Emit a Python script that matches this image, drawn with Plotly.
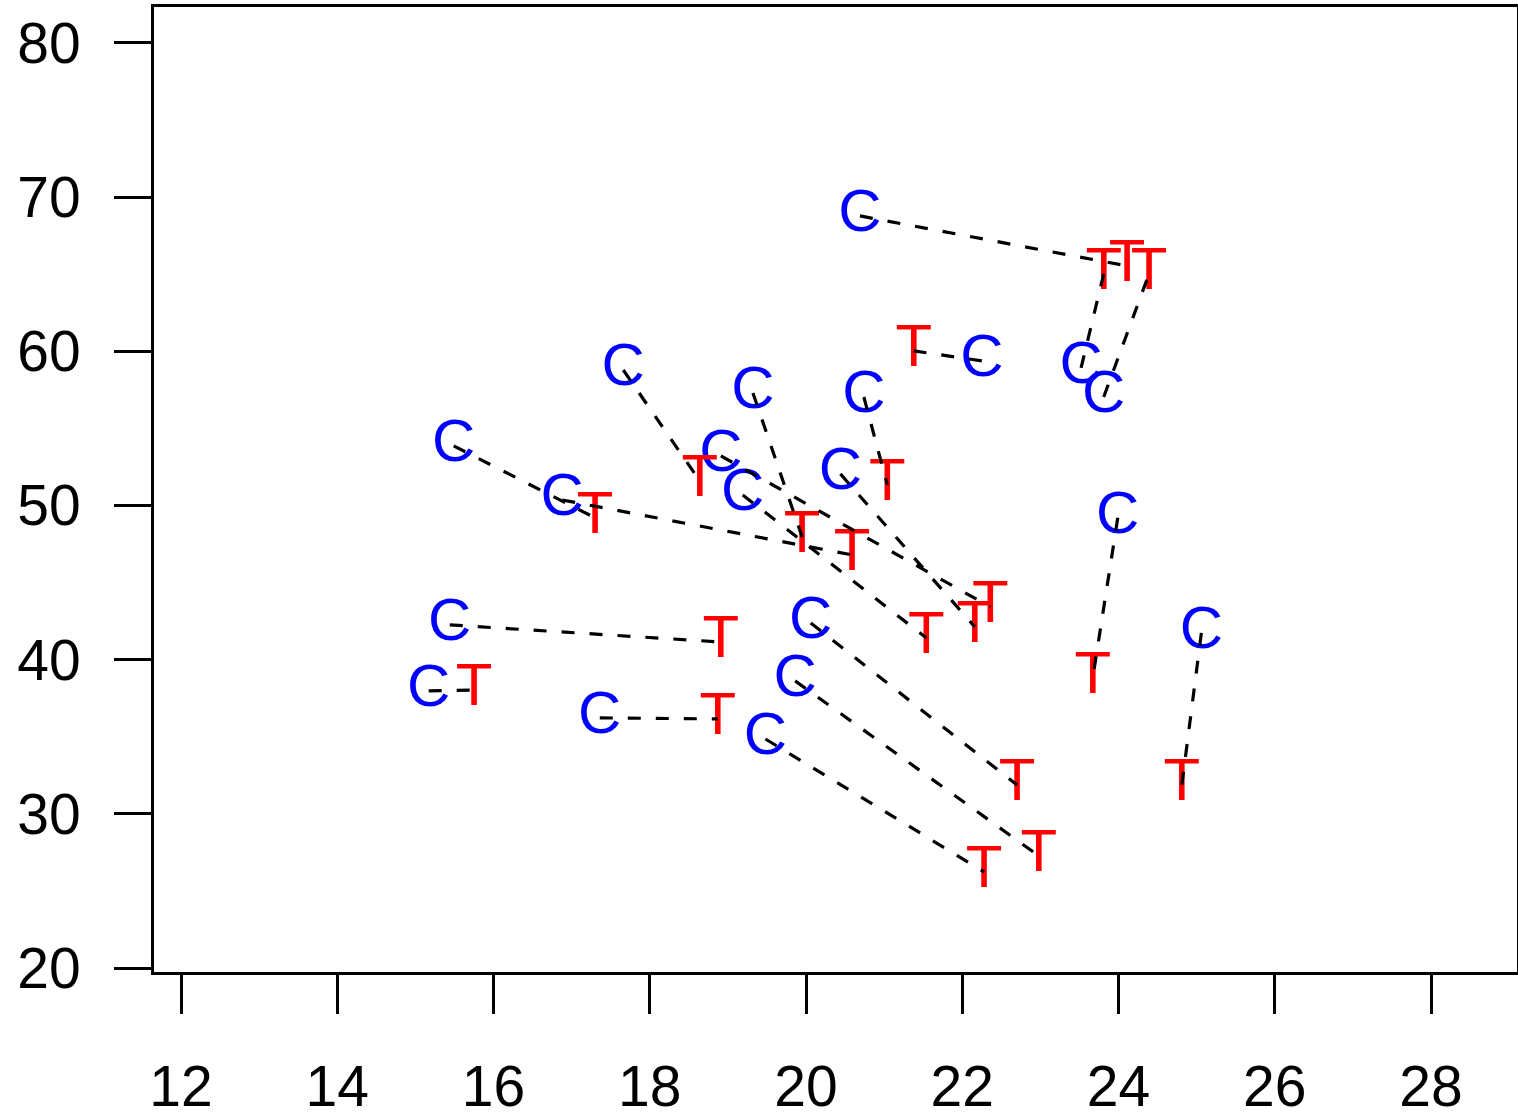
import plotly.graph_objects as go

# Paired observations: control (C) and treatment (T)
c_x = [20.69, 23.52, 23.81, 22.25, 15.49, 17.66, 19.32, 20.74, 16.88, 18.91,
       20.44, 19.19, 23.99, 25.06, 15.44, 15.17, 17.36, 20.06, 19.86, 19.48]
c_y = [68.78, 58.92, 57.04, 59.38, 53.87, 58.79, 57.30, 57.04, 50.36, 53.22,
       52.05, 50.69, 49.20, 41.74, 42.26, 37.98, 36.23, 42.39, 38.63, 34.86]
t_x = [24.11, 23.81, 24.39, 21.38, 17.30, 18.64, 19.95, 21.04, 20.59, 22.36,
       22.16, 21.54, 23.67, 24.81, 18.91, 15.75, 18.87, 22.70, 22.98, 22.28]
t_y = [65.54, 65.02, 65.02, 60.03, 49.20, 51.60, 47.96, 51.34, 46.80, 43.42,
       42.13, 41.41, 38.82, 31.88, 41.15, 38.04, 36.16, 31.88, 27.28, 26.24]

x_ticks = [12, 14, 16, 18, 20, 22, 24, 26, 28]
y_ticks = [20, 30, 40, 50, 60, 70, 80]

FONT = "Liberation Sans, Arial, Helvetica, sans-serif"

# segments
seg_x, seg_y = [], []
for cx, cy, tx, ty in zip(c_x, c_y, t_x, t_y):
    seg_x += [cx, tx, None]
    seg_y += [cy, ty, None]

fig = go.Figure()
fig.add_trace(go.Scatter(x=c_x, y=c_y, mode="text", text=["C"] * len(c_x),
                         textposition="middle center",
                         textfont=dict(family=FONT, size=60, color="#0000FF"),
                         hoverinfo="skip"))
fig.add_trace(go.Scatter(x=t_x, y=t_y, mode="text", text=["T"] * len(t_x),
                         textposition="middle center",
                         textfont=dict(family=FONT, size=60, color="#FF0000"),
                         hoverinfo="skip"))
fig.add_trace(go.Scatter(x=seg_x, y=seg_y, mode="lines",
                         line=dict(color="black", width=3.2, dash="13px,15px"),
                         hoverinfo="skip"))

axis_common = dict(showgrid=False, zeroline=False, showline=True, mirror=True,
                   linecolor="black", linewidth=3, ticks="outside",
                   tickcolor="black", tickwidth=2.5, automargin=False,
                   tickfont=dict(family=FONT, size=57, color="black"))

fig.update_layout(
    width=1518, height=1114,
    margin=dict(l=154, r=1, t=7, b=142),
    paper_bgcolor="white", plot_bgcolor="white",
    showlegend=False,
    xaxis=dict(range=[11.654, 29.10], tickvals=x_ticks,
               ticktext=[str(v) for v in x_ticks], ticklen=39,
               ticklabelstandoff=24, **axis_common),
    yaxis=dict(range=[19.75, 82.33], tickvals=y_ticks,
               ticktext=[str(v) for v in y_ticks], ticklen=37,
               ticklabelstandoff=22, **axis_common),
)

fig.write_html("out.html", config={"displayModeBar": False})
